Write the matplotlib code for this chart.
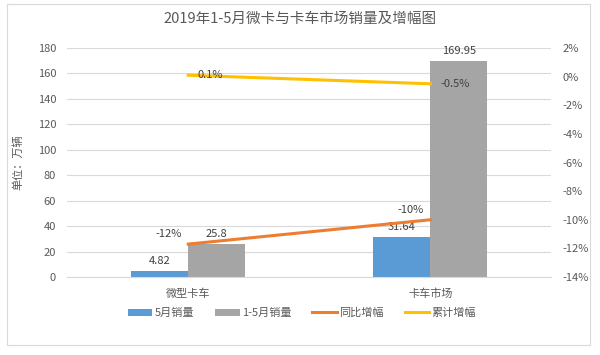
import matplotlib
matplotlib.use("Agg")
import matplotlib.pyplot as plt
import numpy as np
from matplotlib.patches import Rectangle

plt.rcParams['font.family'] = ['Noto Sans CJK SC', 'DejaVu Sans']

categories = ['微型卡车', '卡车市场']
may_sales = [4.82, 31.64]
ytd_sales = [25.8, 169.95]
yoy_growth = [-11.7, -10.0]
cum_growth = [0.1, -0.5]
left_ticks = list(range(0, 181, 20))
right_ticks = list(range(-14, 3, 2))

fig = plt.figure(figsize=(6, 3.55), dpi=100)
ax = fig.add_axes([0.112, 0.2197, 0.807, 0.645])
ax2 = ax.twinx()

x = np.arange(len(categories))
w = 0.236
blue = '#5b9bd5'
gray = '#a5a5a5'
orange = '#ed7d31'
yellow = '#ffc000'
tc = '#595959'

b1 = ax.bar(x - w/2, may_sales, w, color=blue, label='5月销量', zorder=2)
b2 = ax.bar(x + w/2, ytd_sales, w, color=gray, label='1-5月销量', zorder=2)
for xi, v in zip(x - w/2, may_sales):
    ax.text(xi, v + 4, f'{v:g}', ha='center', va='bottom', fontsize=8, color='#404040')
for xi, v in zip(x + w/2, ytd_sales):
    ax.text(xi, v + 4, f'{v:g}', ha='center', va='bottom', fontsize=8, color='#404040')

ax.set_ylim(0, 180)
ax.set_yticks(left_ticks)
ax.set_xlim(-0.5, 1.5)
ax.set_xticks(x)
ax.set_xticklabels(categories)
ax.grid(axis='y', color='#d9d9d9', linewidth=0.8, zorder=0)
ax.set_axisbelow(True)
for s in ax.spines.values():
    s.set_visible(False)
for s in ax2.spines.values():
    s.set_visible(False)
ax.spines['bottom'].set_visible(True)
ax.spines['bottom'].set_color('#d9d9d9')
ax.tick_params(axis='both', length=0, labelsize=8, colors=tc, pad=8)
ax.tick_params(axis='x', pad=8)
ax.set_ylabel('单位：万辆', fontsize=8, color=tc, labelpad=10)

l1, = ax2.plot(x, yoy_growth, color=orange, linewidth=2.2, label='同比增幅', zorder=3)
l2, = ax2.plot(x, cum_growth, color=yellow, linewidth=2.2, label='累计增幅', zorder=3)
ax2.set_ylim(-14, 2)
ax2.set_yticks(right_ticks)
ax2.set_yticklabels([f'{t}%' for t in right_ticks])
ax2.tick_params(axis='y', length=0, labelsize=8, colors=tc, pad=8)

for xi, v in zip(x, yoy_growth):
    ax2.text(xi - 0.08, v + 0.35, f'{v:.0f}%', ha='center', va='bottom', fontsize=8, color='#404040')
for xi, v in zip(x, cum_growth):
    ax2.text(xi + 0.04, v, f'{v:g}%', ha='left', va='center', fontsize=8, color='#404040')

fig.text(0.5, 0.948, '2019年1-5月微卡与卡车市场销量及增幅图', ha='center', va='center', fontsize=10.5, color=tc)

handles = [b1, b2, l1, l2]
leg = fig.legend(handles, [h.get_label() for h in handles], loc='center', bbox_to_anchor=(0.503, 0.118),
                 ncol=4, frameon=False, fontsize=8, handlelength=2.2, columnspacing=1.9, handletextpad=0.2)
for t in leg.get_texts():
    t.set_color(tc)

fig.patches.append(Rectangle((0.012, 0.028), 0.972, 0.96, transform=fig.transFigure,
                             fill=False, edgecolor='#d9d9d9', linewidth=0.8))

fig.savefig('out.png', dpi=100, facecolor='white')
